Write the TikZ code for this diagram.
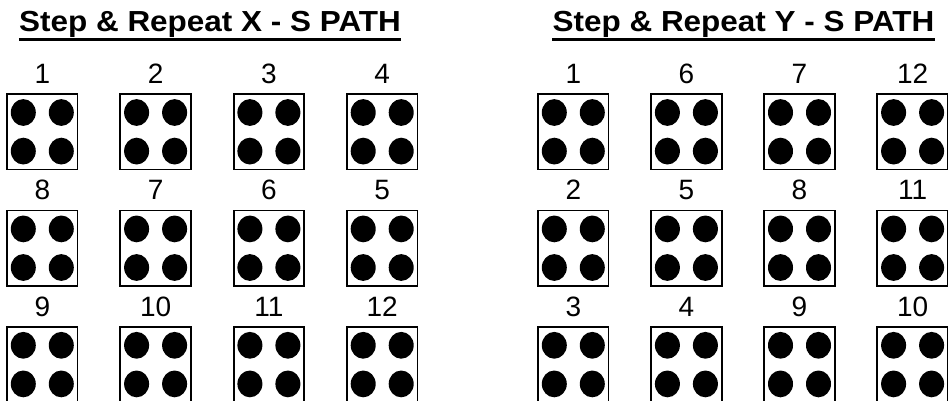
\documentclass[tikz,border=0pt]{standalone}
\usepackage{fontspec}
\setmainfont{Liberation Sans}
\usepackage{graphicx}
\begin{document}
\begin{tikzpicture}[x=1pt,y=-1pt,
  cell/.style={draw=black, line width=1.8pt, minimum width=70.5pt, minimum height=75.5pt, inner sep=0pt, fill=white},
  num/.style={font=\fontsize{28}{30}\selectfont, anchor=base, inner sep=0pt},
  ttl/.style={font=\bfseries\fontsize{29}{32}\selectfont, anchor=base, inner sep=0pt},
  uline/.style={line width=3pt}]
\useasboundingbox (0,0) rectangle (948,400);
\clip (0,0) rectangle (948,400);
% titles
\node[ttl] (tx) at (210,31) {\scalebox{1.085}[1]{Step \& Repeat X - S PATH}};
\draw[uline] ([yshift=-8.5pt]tx.base west) -- ([yshift=-8.5pt]tx.base east);
\node[ttl] (ty) at (743.5,31) {\scalebox{1.085}[1]{Step \& Repeat Y - S PATH}};
\draw[uline] ([yshift=-8.5pt]ty.base west) -- ([yshift=-8.5pt]ty.base east);
% X grid
\foreach \lab [count=\i from 0] in {1,2,3,4,8,7,6,5,9,10,11,12} {
  \pgfmathtruncatemacro\r{div(\i,4)}
  \pgfmathtruncatemacro\c{mod(\i,4)}
  \pgfmathsetmacro\cx{42.3+113.3*\c}
  \pgfmathsetmacro\cy{131.8+116.4*\r}
  \node[cell] (xb\i) at (\cx,\cy) {};
  \node[num] (xl\i) at (\cx,\cy-48.5) {\lab};
  \foreach \dx in {-19,19} \foreach \dy in {-19.3,19.3}
    \fill (xb\i.center) ++(\dx,\dy) ellipse [x radius=12.5, y radius=13.4];
}
% Y grid
\foreach \lab [count=\i from 0] in {1,6,7,12,2,5,8,11,3,4,9,10} {
  \pgfmathtruncatemacro\r{div(\i,4)}
  \pgfmathtruncatemacro\c{mod(\i,4)}
  \pgfmathsetmacro\cx{573.3+113.1*\c}
  \pgfmathsetmacro\cy{131.8+116.4*\r}
  \node[cell] (yb\i) at (\cx,\cy) {};
  \node[num] (yl\i) at (\cx,\cy-48.5) {\lab};
  \foreach \dx in {-19,19} \foreach \dy in {-19.3,19.3}
    \fill (yb\i.center) ++(\dx,\dy) ellipse [x radius=12.5, y radius=13.4];
}
\end{tikzpicture}
\end{document}
